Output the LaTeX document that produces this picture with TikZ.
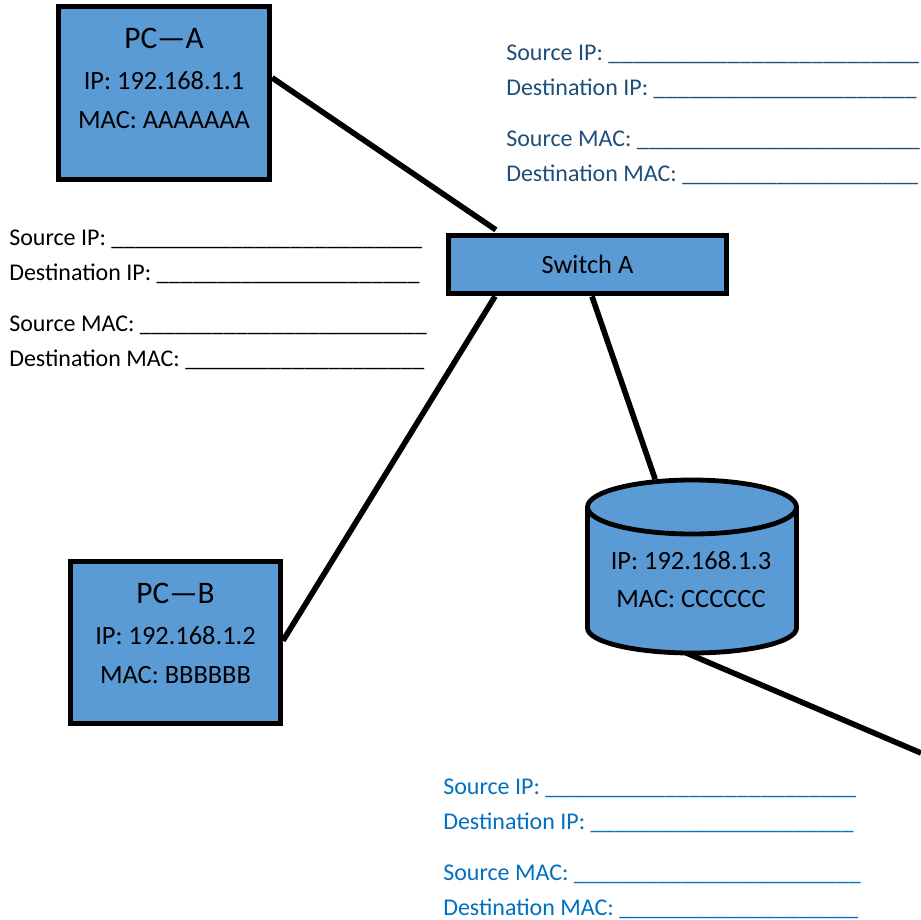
\documentclass[tikz,border=0pt]{standalone}
\usepackage{fontspec}
\setmainfont{Carlito}
\usetikzlibrary{shapes.geometric}
\definecolor{boxblue}{HTML}{5B9BD5}
\definecolor{darkform}{HTML}{1F4E79}
\definecolor{midform}{HTML}{0070C0}
\newcommand{\blank}[1]{\foreach \n in {1,...,#1}{\_}}
\newcommand{\tightblank}[1]{\foreach \n in {1,...,#1}{\_\kern-0.13pt}}
\tikzset{
  x=0.75pt,y=-0.75pt,
  device/.style={draw=black,line width=3.75pt,fill=boxblue,rectangle,inner sep=0pt},
  body/.style={font=\fontsize{19.8pt}{22pt}\selectfont,text=black,anchor=base,inner sep=0pt},
  title/.style={font=\fontsize{23.5pt}{26pt}\selectfont,text=black,anchor=base,inner sep=0pt},
  form/.style={font=\fontsize{18pt}{20pt}\selectfont,anchor=base west,inner sep=0pt},
  wire/.style={draw=black,line width=4.2pt},
  drum/.style={draw=black,line width=3.6pt,fill=boxblue,line join=round},
}
\begin{document}
\begin{tikzpicture}
\useasboundingbox (0,0) rectangle (921,920);
\node[device,minimum width=158.5pt,minimum height=129.5pt] (pca) at (164,93) {};
\node[device,minimum width=209pt,minimum height=44pt] (sw) at (587.5,264.5) {};
\node[device,minimum width=157.5pt,minimum height=121.5pt] (pcb) at (175.5,642.5) {};
\node[rectangle,inner sep=0pt,minimum width=156.75pt,minimum height=129.75pt] (srv) at (692,566) {};
\coordinate (edge) at (921,753);
\draw[wire,shorten >=3.75pt] (pca.8.5) -- (sw.160.6);
\draw[wire] (sw.199.5) -- (pcb.1);
\draw[wire] (sw.-82.5) -- (srv.113);
\draw[wire] (srv.-94) -- (edge);
\draw[drum] (587.5,507) -- (587.5,628) arc[start angle=180,end angle=360,x radius=104.5,y radius=-25]
  -- (796.5,507) arc[start angle=0,end angle=180,x radius=104.5,y radius=-27] -- cycle;
\draw[drum,fill=none] (587.5,507) arc[start angle=180,end angle=360,x radius=104.5,y radius=-27];
\node[title] (ta) at (164,49) {PC—A};
\node[body] (ta1) at (164,90) {IP: 192.168.1.1};
\node[body] (ta2) at (164,129) {MAC: AAAAAAA};
\node[body] (tsw) at (587.5,273) {Switch A};
\node[title] (tb) at (175.5,603) {PC—B};
\node[body] (tb1) at (175.5,644) {IP: 192.168.1.2};
\node[body] (tb2) at (175.5,683) {MAC: BBBBBB};
\node[body] (tc1) at (691,569) {IP: 192.168.1.3};
\node[body] (tc2) at (691,607) {MAC: CCCCCC};
\node[form] (l1) at (9,245.5) {Source IP: \blank{26}};
\node[form] (l2) at (9,280.5) {Destination IP: \blank{22}};
\node[form] (l3) at (9,331.5) {Source MAC: \blank{24}};
\node[form] (l4) at (9,366.5) {Destination MAC: \blank{20}};
\node[form,text=darkform] (r1) at (506,60.5) {Source IP: \blank{26}};
\node[form,text=darkform] (r2) at (506,95.5) {Destination IP: \blank{22}};
\node[form,text=darkform] (r3) at (506,146.5) {Source MAC: \tightblank{24}};
\node[form,text=darkform] (r4) at (506,181.5) {Destination MAC: \tightblank{20}};
\node[form,text=midform] (b1) at (443,794.5) {Source IP: \blank{26}};
\node[form,text=midform] (b2) at (443,829.5) {Destination IP: \blank{22}};
\node[form,text=midform] (b3) at (443,880.5) {Source MAC: \blank{24}};
\node[form,text=midform] (b4) at (443,915.5) {Destination MAC: \blank{20}};
\end{tikzpicture}
\end{document}
